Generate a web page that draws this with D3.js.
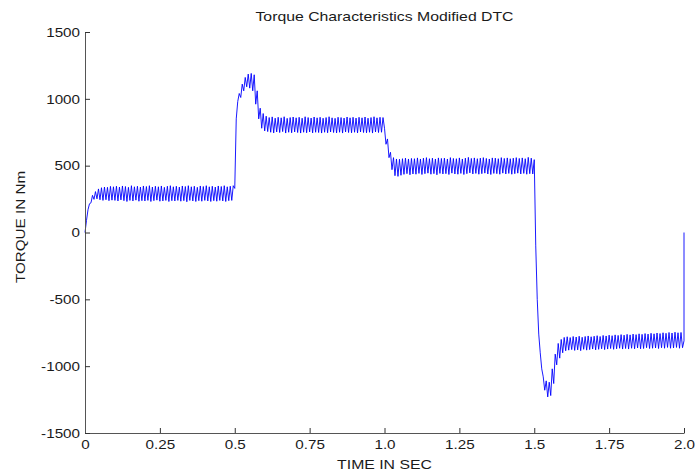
<!DOCTYPE html>
<html>
<head>
<meta charset="utf-8">
<script src="https://cdn.jsdelivr.net/npm/d3@7/dist/d3.min.js"></script>
<style>
  html, body { margin: 0; padding: 0; background: #fff; }
  svg { display: block; }
  text { font-family: "Liberation Sans", Arial, sans-serif; fill: #1a1a1a; }
</style>
</head>
<body>
<svg id="chart" width="698" height="472"></svg>
<script>
// ---------------- data ----------------
const title = "Torque Characteristics Modified DTC";
const xLabel = "TIME IN SEC";
const yLabel = "TORQUE IN Nm";
const xTicks = [0, 0.25, 0.5, 0.75, 1.0, 1.25, 1.5, 1.75, 2.0];
const xTickLabels = ["0", "0.25", "0.5", "0.75", "1.0", "1.25", "1.5", "1.75", "2.0"];
const yTicks = [-1500, -1000, -500, 0, 500, 1000, 1500];
const yTickLabels = ["-1500", "-1000", "-500", "0", "500", "1000", "1500"];
const sampleStep = 0.005; // seconds between successive ripple extremes

// torque samples (Nm), one every sampleStep seconds
const torque = [
  // 0 - 0.5 s
  0, 90, 170, 215, 222, 278, 248, 306, 252, 326,
  245, 335, 240, 340, 245, 338, 238, 345, 242, 342,
  240, 346, 236, 340, 244, 348, 238, 344, 232, 338,
  240, 350, 236, 342, 242, 346, 234, 340, 238, 348,
  236, 344, 240, 350, 232, 340, 238, 346, 242, 342,
  234, 348, 236, 338, 240, 346, 232, 350, 238, 342,
  236, 346, 240, 340, 234, 348, 238, 344, 230, 350,
  240, 342, 236, 346, 232, 338, 238, 348, 234, 344,
  240, 350, 236, 342, 232, 346, 238, 340, 234, 348,
  240, 344, 236, 350, 232, 342, 238, 346, 240, 350,
  // 0.5 - 1.0 s
  330, 850, 980, 1040, 1010, 1110, 1060, 1160, 1090, 1185,
  1080, 1190, 1060, 1180, 960, 1060, 850, 930, 780, 890,
  760, 870, 755, 860, 750, 865, 745, 855, 752, 862,
  748, 858, 755, 866, 744, 854, 750, 860, 746, 864,
  752, 858, 748, 862, 744, 855, 750, 866, 746, 860,
  752, 856, 745, 864, 750, 858, 748, 862, 744, 855,
  750, 860, 746, 866, 752, 858, 748, 854, 745, 862,
  750, 860, 744, 856, 752, 864, 748, 858, 746, 862,
  750, 856, 745, 862, 752, 858, 748, 864, 746, 855,
  750, 860, 744, 866, 752, 858, 748, 862, 750, 860,
  // 1.0 - 1.5 s
  780, 660, 700, 560, 600, 470, 560, 425, 550, 420,
  548, 428, 552, 435, 556, 440, 550, 432, 554, 438,
  552, 436, 558, 442, 550, 434, 556, 440, 560, 444,
  552, 436, 556, 440, 550, 432, 558, 442, 554, 438,
  556, 440, 550, 434, 560, 444, 554, 438, 552, 436,
  558, 442, 550, 434, 556, 440, 562, 446, 554, 438,
  558, 442, 552, 436, 556, 440, 560, 444, 554, 438,
  550, 434, 558, 442, 556, 440, 552, 436, 560, 444,
  554, 438, 558, 442, 552, 436, 556, 440, 560, 444,
  554, 438, 558, 442, 552, 436, 562, 440, 556, 438,
  // 1.5 - 2.0 s
  545, -100, -500, -760, -900, -1020, -1080, -1180, -1110, -1230,
  -1120, -1220, -1020, -1130, -910, -990, -830, -940, -800, -900,
  -785, -885, -780, -880, -786, -876, -778, -882, -782, -878,
  -776, -884, -784, -874, -778, -880, -774, -876, -780, -872,
  -776, -878, -772, -874, -778, -870, -770, -876, -774, -872,
  -768, -868, -772, -874, -766, -870, -770, -866, -764, -872,
  -768, -868, -762, -872, -766, -866, -760, -870, -764, -864,
  -758, -870, -762, -868, -756, -862, -760, -868, -754, -866,
  -758, -864, -752, -868, -756, -862, -750, -866, -754, -860,
  -748, -866, -752, -864, -746, -860, -750, -866, -748, -862
];
// final instant of the record: trace jumps back to zero at t = 2.0 s
const endTime = [2.0, 2.0];
const endTorque = [-810, 0];

// ---------------- layout ----------------
const W = 698, H = 472;
const margin = { left: 85, right: 14, top: 32, bottom: 39 };
const stretch = 1.17;

const svg = d3.select("#chart");
const x = d3.scaleLinear().domain([0, 2]).range([margin.left, W - margin.right]);
const y = d3.scaleLinear().domain([-1500, 1500]).range([H - margin.bottom, margin.top]);

const points = torque.map((v, i) => [i * sampleStep, v])
  .concat(endTime.map((t, i) => [t, endTorque[i]]));

const line = d3.line().x(d => x(d[0])).y(d => y(d[1]));

svg.append("path")
  .datum(points)
  .attr("d", line)
  .attr("fill", "none")
  .attr("stroke", "#0000ff")
  .attr("stroke-width", 0.9)
  .attr("stroke-linejoin", "miter");

// axes
const xAxis = d3.axisBottom(x)
  .tickValues(xTicks)
  .tickFormat((d, i) => xTickLabels[i])
  .tickSizeInner(-5).tickSizeOuter(0).tickPadding(7);
const yAxis = d3.axisLeft(y)
  .tickValues(yTicks)
  .tickFormat((d, i) => yTickLabels[i])
  .tickSizeInner(-5).tickSizeOuter(0).tickPadding(5);

const gx = svg.append("g").attr("transform", `translate(0,${H - margin.bottom})`).call(xAxis);
const gy = svg.append("g").attr("transform", `translate(${margin.left},0)`).call(yAxis);

[gx, gy].forEach(g => {
  g.select(".domain").attr("stroke", "#555").attr("stroke-width", 1);
  g.selectAll(".tick line").attr("stroke", "#333");
  g.selectAll(".tick text").attr("font-size", 13).attr("fill", "#1a1a1a")
    .style("font-family", '"Liberation Sans", Arial, sans-serif');
});

// title and labels
svg.append("text").attr("class", "lbl")
  .attr("x", (margin.left + W - margin.right) / 2).attr("y", 21)
  .attr("text-anchor", "middle").attr("font-size", 13.5).text(title);

svg.append("text").attr("class", "lbl")
  .attr("x", (margin.left + W - margin.right) / 2).attr("y", 469)
  .attr("text-anchor", "middle").attr("font-size", 13.5).text(xLabel);

svg.append("text").attr("class", "lbl")
  .attr("transform", "translate(25,227) rotate(-90)")
  .attr("text-anchor", "middle").attr("font-size", 13).text(yLabel);

// horizontal stretch of all text to match reference rendering
svg.selectAll("text").each(function () {
  const w = this.getComputedTextLength();
  d3.select(this).attr("textLength", w * stretch).attr("lengthAdjust", "spacingAndGlyphs");
});
</script>
</body>
</html>
